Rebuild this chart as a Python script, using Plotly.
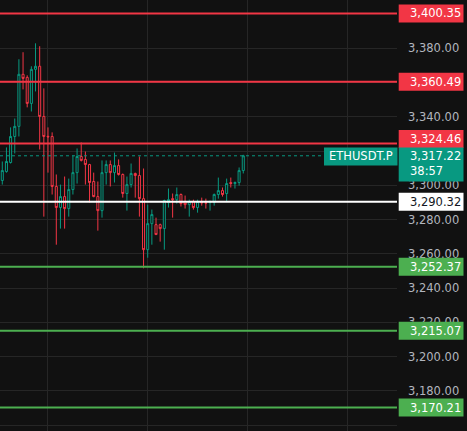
import plotly.graph_objects as go

# ---- data (hourly candles) ----
opens  = [3302.8, 3308.0, 3313.3, 3328.5, 3334.4, 3364.8, 3363.0, 3347.8, 3367.7, 3369.5,
          3340.2, 3328.6, 3328.5, 3299.3, 3287.0, 3293.4, 3286.4, 3297.5, 3307.4, 3316.8,
          3315.1, 3312.1, 3302.2, 3293.4, 3285.2, 3307.4, 3312.1, 3307.4, 3311.5, 3306.3,
          3295.2, 3300.4, 3306.9, 3305.7, 3292.2, 3262.4, 3277.6, 3277.0, 3277.0, 3274.7,
          3289.9, 3292.2, 3291.6, 3294.6, 3290.5, 3288.7, 3290.5, 3287.0, 3290.0, 3289.9,
          3289.9, 3289.9, 3294.6, 3296.9, 3295.2, 3301.6, 3301.0, 3301.6, 3308.6]
highs  = [3313.9, 3322.1, 3333.8, 3339.0, 3373.6, 3377.7, 3364.2, 3369.5, 3382.9, 3381.2,
          3356.6, 3333.8, 3330.9, 3306.3, 3300.4, 3305.1, 3303.9, 3317.4, 3321.5, 3325.0,
          3319.7, 3312.5, 3307.4, 3302.2, 3314.5, 3314.5, 3314.5, 3319.1, 3315.1, 3306.9,
          3305.1, 3312.7, 3307.4, 3316.8, 3309.8, 3288.7, 3285.8, 3281.1, 3277.6, 3291.6,
          3298.1, 3295.2, 3298.7, 3295.2, 3294.0, 3291.6, 3291.6, 3291.6, 3292.8, 3292.2,
          3291.1, 3295.2, 3304.5, 3298.7, 3303.9, 3304.5, 3302.2, 3310.4, 3317.8]
lows   = [3300.4, 3307.4, 3312.7, 3318.6, 3328.5, 3356.0, 3345.5, 3343.1, 3354.8, 3320.9,
          3281.7, 3307.4, 3294.6, 3265.3, 3274.7, 3274.7, 3281.7, 3294.6, 3301.0, 3313.9,
          3300.4, 3289.9, 3293.0, 3273.5, 3281.1, 3300.4, 3299.3, 3301.6, 3305.7, 3292.8,
          3285.2, 3298.7, 3292.8, 3281.7, 3251.5, 3257.7, 3265.3, 3271.2, 3267.1, 3262.4,
          3287.0, 3281.1, 3289.3, 3287.6, 3286.4, 3281.7, 3285.8, 3284.0, 3288.1, 3286.4,
          3285.2, 3288.1, 3292.2, 3293.4, 3290.5, 3298.7, 3298.1, 3299.8, 3306.9]
closes = [3308.6, 3313.9, 3328.5, 3334.4, 3364.8, 3362.4, 3347.8, 3367.7, 3369.5, 3340.2,
          3328.5, 3328.3, 3299.3, 3287.0, 3293.4, 3286.4, 3297.5, 3307.4, 3316.8, 3314.5,
          3312.1, 3301.6, 3293.4, 3285.2, 3307.4, 3312.1, 3307.4, 3311.5, 3306.3, 3295.2,
          3300.4, 3306.9, 3305.7, 3292.2, 3262.4, 3277.6, 3282.9, 3271.2, 3274.7, 3291.1,
          3291.6, 3291.6, 3294.6, 3289.3, 3288.7, 3290.5, 3287.0, 3290.5, 3289.8, 3289.6,
          3290.5, 3294.6, 3296.9, 3294.6, 3301.0, 3301.0, 3301.6, 3308.6, 3317.22]
candle_index = list(range(len(opens)))

level_prices = [3400.35, 3360.49, 3324.46, 3290.32, 3252.37, 3215.07, 3170.21]
level_kinds  = ["res", "res", "res", "pivot", "sup", "sup", "sup"]

y_tick_values = [3160, 3180, 3200, 3220, 3240, 3260, 3280, 3300, 3320, 3340, 3360, 3380]
day_grid_index = [11, 35, 59, 83]

symbol = "ETHUSDT.P"
last_price = 3317.22
countdown = "38:57"

# ---- styles ----
W, H = 467, 431
PLOT_RIGHT = 397
BG = "#111111"
GRID = "#262626"
UP = "#089981"
DOWN = "#F23645"
kind_color = {"res": "#F23645", "pivot": "#FFFFFF", "sup": "#4CAF50"}
kind_text = {"res": "#FFFFFF", "pivot": "#131722", "sup": "#FFFFFF"}
label_shift = {3324.46: 4.5}
FONT = "DejaVu Sans"
FS = 11.5

fig = go.Figure()
fig.add_trace(go.Candlestick(
    x=candle_index, open=opens, high=highs, low=lows, close=closes,
    increasing=dict(line=dict(color=UP, width=1), fillcolor=BG),
    decreasing=dict(line=dict(color=DOWN, width=1), fillcolor=BG),
    whiskerwidth=0, hoverinfo="skip", showlegend=False,
))

shapes = []
annotations = []
px = lambda v: v / W

box_x0, box_x1 = px(398.7), px(463.5)
for p, k in zip(level_prices, level_kinds):
    c = kind_color[k]
    off = label_shift.get(p, 0)
    shapes.append(dict(type="line", xref="x domain", x0=0, x1=1, yref="y", y0=p, y1=p,
                       line=dict(color=c, width=2), layer="above"))
    shapes.append(dict(type="rect", xref="paper", x0=box_x0, x1=box_x1,
                       yref="y", ysizemode="pixel", yanchor=p, y0=-9 + off, y1=9 + off,
                       fillcolor=c, line=dict(width=0), layer="above"))
    annotations.append(dict(xref="paper", x=px(408), xanchor="left", yref="y", y=p,
                            yshift=off, text=f"{p:,.2f}", showarrow=False,
                            font=dict(family=FONT, size=FS, color=kind_text[k])))

# last price line + labels
shapes.append(dict(type="line", xref="x domain", x0=0, x1=1, yref="y", y0=last_price, y1=last_price,
                   line=dict(color=UP, width=1, dash="dot"), layer="above"))
shapes.append(dict(type="rect", xref="paper", x0=px(324), x1=px(397.5),
                   yref="y", ysizemode="pixel", yanchor=last_price, y0=-9.7, y1=8.3,
                   fillcolor=UP, line=dict(width=0), layer="above"))
annotations.append(dict(xref="paper", x=px((324 + 397.5) / 2), xanchor="center", yref="y",
                        y=last_price, yshift=-0.7, text=symbol, showarrow=False,
                        font=dict(family=FONT, size=FS, color="#FFFFFF")))
shapes.append(dict(type="rect", xref="paper", x0=box_x0, x1=box_x1,
                   yref="y", ysizemode="pixel", yanchor=last_price, y0=-25.7, y1=8.3,
                   fillcolor=UP, line=dict(width=0), layer="above"))
annotations.append(dict(xref="paper", x=px(408), xanchor="left", yref="y", y=last_price,
                        yshift=-7.5, align="left", text=f"{last_price:,.2f}<br>{countdown}",
                        showarrow=False, font=dict(family=FONT, size=FS, color="#FFFFFF")))

fig.update_layout(
    width=W, height=H,
    margin=dict(l=0, r=0, t=0, b=0),
    paper_bgcolor=BG, plot_bgcolor=BG,
    showlegend=False,
    boxgap=0.3,
    shapes=shapes, annotations=annotations,
    xaxis=dict(domain=[0, PLOT_RIGHT / W], range=[-0.55, 95.0], rangeslider=dict(visible=False),
               showticklabels=False, tickvals=day_grid_index, showgrid=True, gridcolor=GRID,
               gridwidth=1, zeroline=False, showline=False, ticks="", fixedrange=True),
    yaxis=dict(side="right", range=[3156.5, 3408.2], tickvals=y_tick_values, tickformat=",.2f",
               showgrid=True, gridcolor=GRID, gridwidth=1, zeroline=False, showline=False,
               ticks="", ticklabelstandoff=10, automargin=False,
               tickfont=dict(family=FONT, size=FS, color="#B2B5BE"), fixedrange=True),
    hovermode=False,
)

fig.write_html(
    "out.html",
    config={"displayModeBar": False},
    post_script="document.body.style.margin='0';document.body.style.background='" + BG + "';",
)
